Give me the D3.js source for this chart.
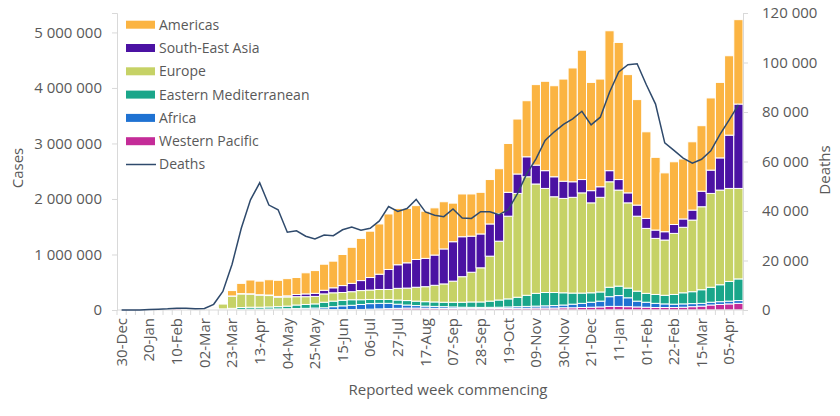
<!DOCTYPE html>
<html>
<head>
<meta charset="utf-8">
<script src="https://cdn.jsdelivr.net/npm/d3@7"></script>
<style>
  body { margin: 0; background: #fff; }
  text { font-family: "Open Sans", sans-serif; fill: #595959; }
</style>
</head>
<body>
<svg id="chart" width="840" height="416"></svg>
<script>
// weekly cases by WHO region (thousands), week commencing 30-Dec-2019 .. 12-Apr-2021
const weeks = [
  "30-Dec", "06-Jan", "13-Jan", "20-Jan", "27-Jan", "03-Feb", "10-Feb", "17-Feb", "24-Feb",
  "02-Mar", "09-Mar", "16-Mar", "23-Mar", "30-Mar", "06-Apr", "13-Apr", "20-Apr", "27-Apr",
  "04-May", "11-May", "18-May", "25-May", "01-Jun", "08-Jun", "15-Jun", "22-Jun", "29-Jun",
  "06-Jul", "13-Jul", "20-Jul", "27-Jul", "03-Aug", "10-Aug", "17-Aug", "24-Aug", "31-Aug",
  "07-Sep", "14-Sep", "21-Sep", "28-Sep", "05-Oct", "12-Oct", "19-Oct", "26-Oct", "02-Nov",
  "09-Nov", "16-Nov", "23-Nov", "30-Nov", "07-Dec", "14-Dec", "21-Dec", "28-Dec", "04-Jan",
  "11-Jan", "18-Jan", "25-Jan", "01-Feb", "08-Feb", "15-Feb", "22-Feb", "01-Mar", "08-Mar",
  "15-Mar", "22-Mar", "29-Mar", "05-Apr", "12-Apr"
];
const tickLabels = [
  "30-Dec", "20-Jan", "10-Feb", "02-Mar", "23-Mar", "13-Apr", "04-May", "25-May", "15-Jun",
  "06-Jul", "27-Jul", "17-Aug", "07-Sep", "28-Sep", "19-Oct", "09-Nov", "30-Nov", "21-Dec",
  "11-Jan", "01-Feb", "22-Feb", "15-Mar", "05-Apr"
];

const westernPacific = [0, 0.1, 0.3, 1.5, 8, 17, 22, 15, 5, 7, 7, 6, 6, 8, 9, 8, 7, 6, 6, 6, 6, 7, 7, 8, 8, 9, 10, 15, 20, 25, 30, 35, 35, 33, 30, 28, 26, 25, 25, 25, 26, 27, 28, 30, 32, 35, 35, 35, 40, 40, 45, 50, 55, 65, 65, 60, 55, 50, 45, 45, 45, 50, 60, 70, 90, 100, 110, 120];
const africa = [0, 0, 0, 0, 0, 0, 0, 0, 0, 0.5, 1, 1, 3, 4, 6, 8, 11, 14, 16, 19, 24, 28, 33, 52, 67, 76, 90, 100, 100, 95, 75, 55, 45, 37, 35, 32, 29, 25, 23, 22, 22, 23, 27, 30, 33, 35, 40, 45, 50, 65, 75, 90, 105, 175, 195, 160, 105, 90, 75, 65, 60, 60, 55, 50, 50, 50, 50, 50];
const easternMediterranean = [0, 0, 0, 0, 0, 0, 0, 0, 2, 7.5, 10, 13, 21, 33, 35, 34, 37, 40, 48, 65, 70, 75, 100, 100, 100, 100, 85, 75, 70, 70, 75, 80, 80, 80, 80, 80, 85, 90, 97, 98, 112, 130, 145, 170, 200, 230, 240, 235, 220, 200, 185, 170, 165, 170, 170, 175, 180, 160, 160, 155, 175, 200, 215, 245, 270, 305, 355, 390];
const europe = [0, 0, 0, 0, 0, 0, 0, 0, 1.5, 7, 18, 92, 220, 245, 235, 218, 205, 170, 165, 150, 140, 135, 150, 150, 140, 145, 165, 170, 180, 180, 210, 225, 250, 270, 300, 330, 380, 460, 535, 615, 810, 1060, 1490, 1870, 2135, 1970, 1875, 1725, 1700, 1725, 1805, 1620, 1705, 1900, 1730, 1535, 1350, 1170, 1010, 995, 1100, 1180, 1290, 1495, 1690, 1705, 1675, 1630];
const southEastAsia = [0, 0, 0, 0, 0, 0, 0, 0, 0, 0.2, 1, 1, 3, 5, 7, 7, 10, 15, 20, 40, 50, 55, 65, 90, 125, 150, 180, 225, 275, 360, 425, 455, 500, 510, 545, 630, 710, 720, 650, 610, 580, 500, 430, 350, 360, 340, 320, 360, 310, 280, 240, 220, 190, 200, 190, 180, 200, 180, 150, 150, 160, 150, 180, 280, 420, 580, 960, 1520];
const americas = [0, 0, 0, 0, 0, 0, 0, 0, 0.1, 1.8, 3, 7, 97, 185, 248, 245, 275, 290, 310, 305, 380, 410, 470, 480, 560, 650, 760, 835, 905, 1000, 1015, 980, 970, 850, 850, 850, 695, 770, 760, 750, 800, 805, 880, 990, 1010, 1450, 1610, 1640, 1840, 2050, 2330, 1950, 1940, 2520, 2470, 2130, 1900, 1560, 1310, 1060, 1130, 1080, 1230, 1180, 1300, 1360, 1430, 1520];

const deaths = [0, 0, 50, 200, 350, 500, 750, 700, 500, 600, 2300, 7500, 18500, 33000, 44500, 51400, 42400, 40500, 31400, 32000, 29800, 28700, 30300, 30000, 32400, 33500, 32200, 33000, 36000, 41800, 39800, 41000, 44700, 39600, 38300, 37700, 40800, 37200, 37000, 39700, 39700, 38500, 40500, 47000, 55000, 61000, 68500, 72000, 75000, 77200, 80300, 74800, 77900, 88000, 96200, 99100, 99500, 91000, 83200, 67500, 64500, 61400, 59300, 60900, 64300, 71000, 76800, 82900];

const regions = ["Western Pacific", "Africa", "Eastern Mediterranean", "Europe", "South-East Asia", "Americas"];
const series = [westernPacific, africa, easternMediterranean, europe, southEastAsia, americas];
const colors = ["#c42c98", "#1f72d2", "#1aa68a", "#c6d266", "#4b12a3", "#fbb442"];
const legendOrder = ["Americas", "South-East Asia", "Europe", "Eastern Mediterranean", "Africa", "Western Pacific"];

let svg = d3.select("#chart");
let plotLeft = 117, plotRight = 743, plotTop = 13, plotBottom = 310;

let table = weeks.map((w, i) => {
  let row = { week: w };
  regions.forEach((r, j) => (row[r] = series[j][i]));
  return row;
});
let stacked = d3.stack().keys(regions)(table);

let x = d3.scaleBand().domain(weeks).range([plotLeft, plotRight]).padding(0);
let yCases = d3.scaleLinear().domain([0, 5350]).range([plotBottom, plotTop]);
let yDeaths = d3.scaleLinear().domain([0, 120000]).range([plotBottom, plotTop]);
let color = d3.scaleOrdinal().domain(regions).range(colors);
let spaced = d3.formatLocale({ decimal: ".", thousands: " ", grouping: [3], currency: ["", ""] }).format(",");

// bars
svg.append("g")
  .selectAll("g")
  .data(stacked)
  .join("g")
  .attr("fill", (d) => color(d.key))
  .selectAll("rect")
  .data((d) => d)
  .join("rect")
  .attr("x", (d) => x(d.data.week))
  .attr("y", (d) => yCases(d[1]))
  .attr("width", x.bandwidth())
  .attr("height", (d) => Math.max(0, yCases(d[0]) - yCases(d[1])))
  .attr("stroke", "#fff")
  .attr("stroke-width", 1);

// axes
let axisColor = "#d9d9d9";
let gl = svg.append("g").attr("transform", `translate(${plotLeft},0)`)
  .call(d3.axisLeft(yCases).tickValues([0, 1000, 2000, 3000, 4000, 5000]).tickSize(5).tickPadding(10)
    .tickFormat((d) => spaced(d * 1000)));
let gr = svg.append("g").attr("transform", `translate(${plotRight},0)`)
  .call(d3.axisRight(yDeaths).tickValues(d3.range(0, 120001, 20000)).tickSize(5).tickPadding(14)
    .tickFormat(spaced));
[gl, gr].forEach((g) => {
  g.select(".domain").attr("stroke", axisColor);
  g.selectAll(".tick line").attr("stroke", axisColor);
  g.selectAll(".tick text").style("font-size", "15px").attr("fill", "#595959")
    .style("font-family", '"Open Sans", sans-serif');
});

let gb = svg.append("g");
gb.append("line").attr("x1", plotLeft).attr("x2", plotRight).attr("y1", plotBottom).attr("y2", plotBottom)
  .attr("stroke", axisColor);
gb.selectAll("line.tick")
  .data(d3.range(weeks.length + 1))
  .join("line")
  .attr("class", "tick")
  .attr("x1", (i) => plotLeft + i * x.step())
  .attr("x2", (i) => plotLeft + i * x.step())
  .attr("y1", plotBottom)
  .attr("y2", plotBottom + 5)
  .attr("stroke", axisColor);
gb.selectAll("text")
  .data(tickLabels)
  .join("text")
  .attr("transform", (d) => `translate(${x(d) + x.bandwidth() / 2},${plotBottom + 8}) rotate(-90)`)
  .attr("text-anchor", "end")
  .attr("dy", "0.35em")
  .style("font-size", "15px")
  .text((d) => d);

// deaths line
let line = d3.line()
  .x((d, i) => x(weeks[i]) + x.bandwidth() / 2)
  .y((d) => yDeaths(d));
svg.append("path")
  .datum(deaths)
  .attr("d", line)
  .attr("fill", "none")
  .attr("stroke", "#2f4a6c")
  .attr("stroke-width", 1.5);

// axis titles
svg.append("text").attr("transform", "translate(23,168) rotate(-90)")
  .attr("text-anchor", "middle").style("font-size", "15px").text("Cases");
svg.append("text").attr("transform", "translate(830,170) rotate(-90)")
  .attr("text-anchor", "middle").style("font-size", "15px").text("Deaths");
svg.append("text").attr("x", 448).attr("y", 395)
  .attr("text-anchor", "middle").style("font-size", "15px").text("Reported week commencing");

// legend
let legend = svg.append("g");
legendOrder.forEach((r, i) => {
  let cy = 24.7 + i * 23.3;
  legend.append("rect").attr("x", 126).attr("y", cy - 4).attr("width", 29).attr("height", 8)
    .attr("fill", color(r));
  legend.append("text").attr("x", 159).attr("y", cy).attr("dy", "0.35em")
    .style("font-size", "14px").text(r);
});
let deathsRowY = 24.7 + 6 * 23.3;
legend.append("line").attr("x1", 126).attr("x2", 156).attr("y1", deathsRowY).attr("y2", deathsRowY)
  .attr("stroke", "#2f4a6c").attr("stroke-width", 1.5);
legend.append("text").attr("x", 159).attr("y", deathsRowY).attr("dy", "0.35em")
  .style("font-size", "14px").text("Deaths");
</script>
</body>
</html>
